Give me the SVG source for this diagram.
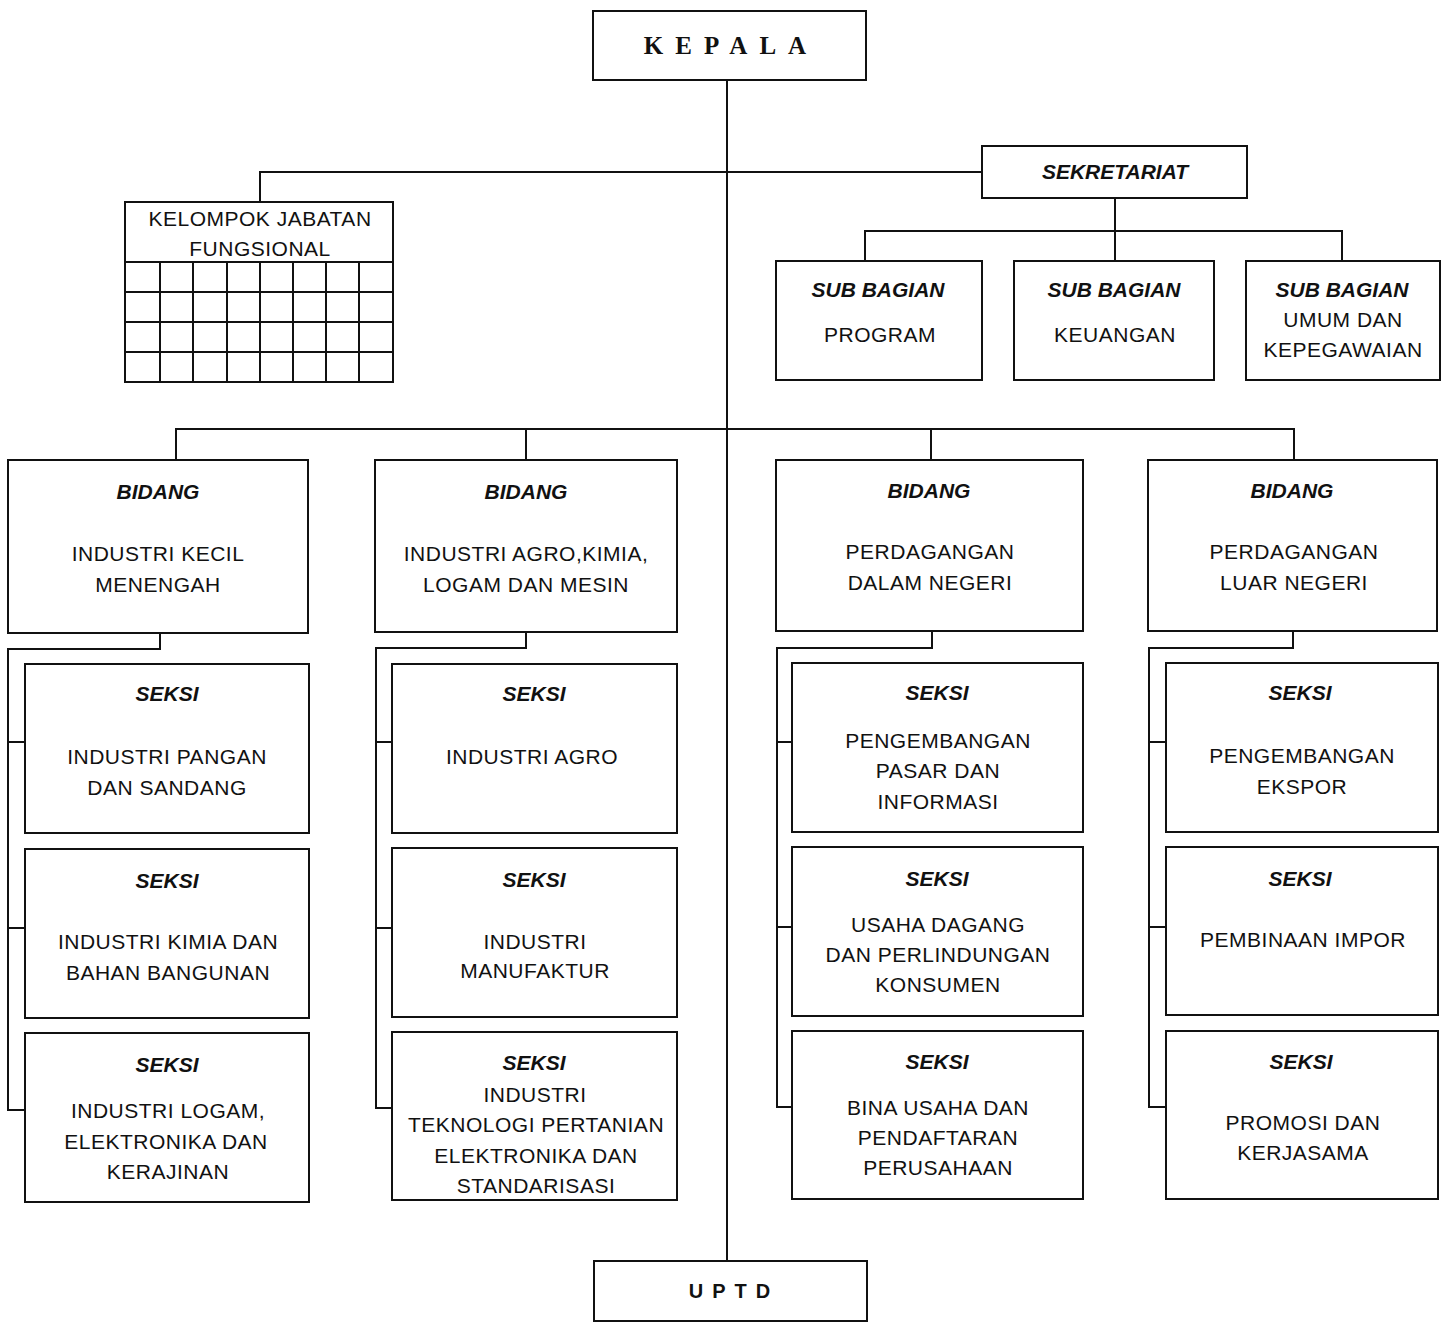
<svg xmlns="http://www.w3.org/2000/svg" width="1447" height="1322" viewBox="0 0 1447 1322">
<style>
.bx{fill:#fff;stroke:#111;stroke-width:2}
.ln{fill:none;stroke:#111;stroke-width:2}
text{font-family:"Liberation Sans",Arial,sans-serif;font-size:21px;fill:#111;text-anchor:middle;letter-spacing:0.5px}
.h{font-weight:bold;font-style:italic;letter-spacing:0}
</style>
<rect width="1447" height="1322" fill="#fff"/>
<g id="connectors">
<path class="ln" d="M727 80 V1261"/>
<path class="ln" d="M260 202 V172 H982"/>
<path class="ln" d="M1115 198 V231 M865 261 V231 H1342 V261 M1115 231 V261"/>
<path class="ln" d="M176 460 V429 H1294 V460 M526 429 V460 M931 429 V460"/>
<path class="ln" d="M160 633 V649 H8 V1110 H25 M8 742 H25 M8 928 H25"/>
<path class="ln" d="M526 632 V648 H376 V1108 H392 M376 742 H392 M376 928 H392"/>
<path class="ln" d="M932 631 V648 H777 V1107 H792 M777 742 H792 M777 927 H792"/>
<path class="ln" d="M1293 631 V648 H1149 V1107 H1166 M1149 742 H1166 M1149 927 H1166"/>
</g>
<g id="kepala"><rect class="bx" x="593" y="11" width="273" height="69"/>
<text x="731" y="54" style="font-family:'Liberation Serif',serif;font-weight:bold;font-size:25px;letter-spacing:12px">KEPALA</text></g>
<g id="uptd"><rect class="bx" x="594" y="1261" width="273" height="60"/>
<text x="734" y="1298" style="font-weight:bold;font-size:20px;letter-spacing:9px">UPTD</text></g>
<g id="kelompok"><rect class="bx" x="125" y="202" width="268" height="180"/>
<text x="260" y="226">KELOMPOK JABATAN</text><text x="260" y="256">FUNGSIONAL</text>
<path class="ln" d="M125 262 H393 M125 292 H393 M125 322 H393 M125 352 H393 M160 262 V382 M193 262 V382 M227 262 V382 M260 262 V382 M293 262 V382 M326 262 V382 M359 262 V382"/></g>
<g id="sekretariat"><rect class="bx" x="982" y="146" width="265" height="52"/>
<text class="h" x="1115" y="179">SEKRETARIAT</text></g>
<g id="sb-program"><rect class="bx" x="776" y="261" width="206" height="119"/>
<text class="h" x="878" y="297">SUB BAGIAN</text><text x="880" y="342">PROGRAM</text></g>
<g id="sb-keuangan"><rect class="bx" x="1014" y="261" width="200" height="119"/>
<text class="h" x="1114" y="297">SUB BAGIAN</text><text x="1115" y="342">KEUANGAN</text></g>
<g id="sb-umum"><rect class="bx" x="1246" y="261" width="194" height="119"/>
<text class="h" x="1342" y="297">SUB BAGIAN</text><text x="1343" y="327">UMUM DAN</text><text x="1343" y="357">KEPEGAWAIAN</text></g>
<g id="bidang-ikm"><rect class="bx" x="8" y="460" width="300" height="173"/>
<text class="h" x="158" y="499">BIDANG</text><text x="158" y="561">INDUSTRI KECIL</text><text x="158" y="592">MENENGAH</text></g>
<g id="bidang-agro"><rect class="bx" x="375" y="460" width="302" height="172"/>
<text class="h" x="526" y="499">BIDANG</text><text x="526" y="561">INDUSTRI AGRO,KIMIA,</text><text x="526" y="592">LOGAM DAN MESIN</text></g>
<g id="bidang-pdn"><rect class="bx" x="776" y="460" width="307" height="171"/>
<text class="h" x="929" y="498">BIDANG</text><text x="930" y="559">PERDAGANGAN</text><text x="930" y="590">DALAM NEGERI</text></g>
<g id="bidang-pln"><rect class="bx" x="1148" y="460" width="289" height="171"/>
<text class="h" x="1292" y="498">BIDANG</text><text x="1294" y="559">PERDAGANGAN</text><text x="1294" y="590">LUAR NEGERI</text></g>
<g id="s1-1"><rect class="bx" x="25" y="664" width="284" height="169"/>
<text class="h" x="167" y="701">SEKSI</text><text x="167" y="764">INDUSTRI PANGAN</text><text x="167" y="795">DAN SANDANG</text></g>
<g id="s1-2"><rect class="bx" x="25" y="849" width="284" height="169"/>
<text class="h" x="167" y="888">SEKSI</text><text x="168" y="949">INDUSTRI KIMIA DAN</text><text x="168" y="980">BAHAN BANGUNAN</text></g>
<g id="s1-3"><rect class="bx" x="25" y="1033" width="284" height="169"/>
<text class="h" x="167" y="1072">SEKSI</text><text x="168" y="1118">INDUSTRI LOGAM,</text><text x="166" y="1149">ELEKTRONIKA DAN</text><text x="168" y="1179">KERAJINAN</text></g>
<g id="s2-1"><rect class="bx" x="392" y="664" width="285" height="169"/>
<text class="h" x="534" y="701">SEKSI</text><text x="532" y="764">INDUSTRI AGRO</text></g>
<g id="s2-2"><rect class="bx" x="392" y="848" width="285" height="169"/>
<text class="h" x="534" y="887">SEKSI</text><text x="535" y="949">INDUSTRI</text><text x="535" y="978">MANUFAKTUR</text></g>
<g id="s2-3"><rect class="bx" x="392" y="1032" width="285" height="168"/>
<text class="h" x="534" y="1070">SEKSI</text><text x="535" y="1102">INDUSTRI</text><text x="536" y="1132">TEKNOLOGI PERTANIAN</text><text x="536" y="1163">ELEKTRONIKA DAN</text><text x="536" y="1193">STANDARISASI</text></g>
<g id="s3-1"><rect class="bx" x="792" y="663" width="291" height="169"/>
<text class="h" x="937" y="700">SEKSI</text><text x="938" y="748">PENGEMBANGAN</text><text x="938" y="778">PASAR DAN</text><text x="938" y="809">INFORMASI</text></g>
<g id="s3-2"><rect class="bx" x="792" y="847" width="291" height="169"/>
<text class="h" x="937" y="886">SEKSI</text><text x="938" y="932">USAHA DAGANG</text><text x="938" y="962">DAN PERLINDUNGAN</text><text x="938" y="992">KONSUMEN</text></g>
<g id="s3-3"><rect class="bx" x="792" y="1031" width="291" height="168"/>
<text class="h" x="937" y="1069">SEKSI</text><text x="938" y="1115">BINA USAHA DAN</text><text x="938" y="1145">PENDAFTARAN</text><text x="938" y="1175">PERUSAHAAN</text></g>
<g id="s4-1"><rect class="bx" x="1166" y="663" width="272" height="169"/>
<text class="h" x="1300" y="700">SEKSI</text><text x="1302" y="763">PENGEMBANGAN</text><text x="1302" y="794">EKSPOR</text></g>
<g id="s4-2"><rect class="bx" x="1166" y="847" width="272" height="168"/>
<text class="h" x="1300" y="886">SEKSI</text><text x="1303" y="947">PEMBINAAN IMPOR</text></g>
<g id="s4-3"><rect class="bx" x="1166" y="1031" width="272" height="168"/>
<text class="h" x="1301" y="1069">SEKSI</text><text x="1303" y="1130">PROMOSI DAN</text><text x="1303" y="1160">KERJASAMA</text></g>
</svg>
